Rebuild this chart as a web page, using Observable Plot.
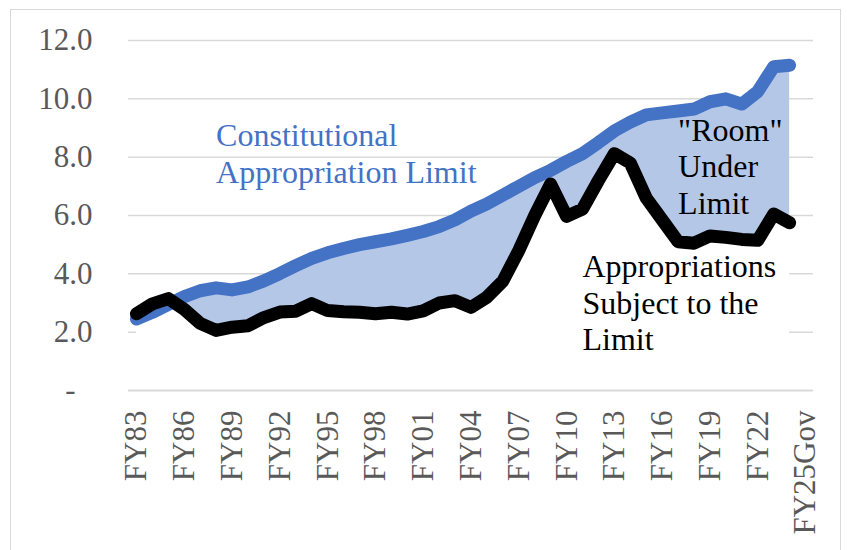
<!DOCTYPE html>
<html>
<head>
<meta charset="utf-8">
<script src="https://cdn.jsdelivr.net/npm/d3@7"></script>
<script src="https://cdn.jsdelivr.net/npm/@observablehq/plot@0.6"></script>
<style>
  html, body { margin: 0; padding: 0; background: #fff; }
  #wrap { position: relative; width: 847px; height: 550px; overflow: hidden; }
  #border { position: absolute; left: 10px; top: 9px; width: 829px; height: 600px; border: 1.5px solid #d9d9d9; pointer-events: none; }
</style>
</head>
<body>
<div id="wrap"><div id="chart"></div><div id="border"></div></div>
<script>
// Categories (x axis)
const categories = [
  "FY83","FY84","FY85","FY86","FY87","FY88","FY89","FY90","FY91","FY92",
  "FY93","FY94","FY95","FY96","FY97","FY98","FY99","FY00","FY01","FY02",
  "FY03","FY04","FY05","FY06","FY07","FY08","FY09","FY10","FY11","FY12",
  "FY13","FY14","FY15","FY16","FY17","FY18","FY19","FY20","FY21","FY22",
  "FY23","FY24","FY25Gov"
];
// Constitutional Appropriation Limit ($ billions), FY83–FY24
const limitValues = [
  2.45, 2.68, 2.95, 3.22, 3.42, 3.52, 3.45, 3.55, 3.76, 4.01,
  4.28, 4.53, 4.72, 4.87, 5.00, 5.10, 5.20, 5.32, 5.45, 5.62,
  5.85, 6.15, 6.40, 6.70, 7.00, 7.30, 7.55, 7.85, 8.12, 8.50,
  8.90, 9.20, 9.45, 9.52, 9.58, 9.65, 9.90, 10.00, 9.82, 10.25,
  11.10, 11.15
];
// Appropriations Subject to the Limit, FY83–FY24
const appropValues = [
  2.63, 2.97, 3.15, 2.78, 2.30, 2.06, 2.17, 2.22, 2.50, 2.69,
  2.72, 2.98, 2.74, 2.70, 2.68, 2.63, 2.68, 2.62, 2.73, 3.00,
  3.08, 2.85, 3.20, 3.75, 4.80, 6.00, 7.08, 5.97, 6.22, 7.20,
  8.12, 7.80, 6.60, 5.85, 5.10, 5.05, 5.30, 5.25, 5.18, 5.15,
  6.05, 5.75
];
const yTicks = [2, 4, 6, 8, 10, 12];
const xTicks = ["FY83","FY86","FY89","FY92","FY95","FY98","FY01","FY04","FY07","FY10","FY13","FY16","FY19","FY22","FY25Gov"];

// Annotations
const annoText = ["Constitutional\nAppropriation Limit", "\"Room\"\nUnder\nLimit", "Appropriations\nSubject to the\nLimit"];
const annoX = ["FY88", "FY17", "FY11"];
const annoY = [9.26, 9.46, 4.78];
const annoColor = ["#4472c4", "#000000", "#000000"];

const rows = limitValues.map((v, i) => ({ year: categories[i], limit: v, approp: appropValues[i] }));
const annos = annoText.map((t, i) => ({ t, x: annoX[i], y: annoY[i], c: annoColor[i] }));

const font = "'Liberation Serif', 'Times New Roman', serif";

const chart = Plot.plot({
  width: 847,
  height: 550,
  marginLeft: 128,
  marginRight: 34,
  marginTop: 40,
  marginBottom: 160,
  x: { type: "point", domain: categories, padding: 0.5 },
  y: { domain: [0, 12] },
  style: { fontFamily: font, fontSize: "31px", background: "white", overflow: "visible" },
  marks: [
    Plot.gridY(yTicks, { stroke: "#d9d9d9", strokeOpacity: 1, strokeWidth: 1.5 }),
    Plot.areaY(rows, { x: "year", y1: "approp", y2: "limit", fill: "#b4c7e7", curve: "linear" }),
    Plot.areaY(rows, { x: "year", y1: 0, y2: "approp", fill: "white", curve: "linear" }),
    Plot.ruleY([0], { stroke: "#d9d9d9", strokeWidth: 2 }),
    Plot.lineY(rows, { x: "year", y: "limit", stroke: "#4472c4", strokeWidth: 13, strokeLinecap: "round", strokeLinejoin: "round" }),
    Plot.lineY(rows, { x: "year", y: "approp", stroke: "#000000", strokeWidth: 13, strokeLinecap: "round", strokeLinejoin: "round" }),
    Plot.axisY(yTicks, { tickSize: 0, tickPadding: 36, tickFormat: d => d.toFixed(1), fill: "#595959", fontSize: 31, label: null }),
    Plot.axisY([0], { tickSize: 0, tickPadding: 53, tickFormat: () => "-", fill: "#595959", fontSize: 31, label: null }),
    Plot.axisX(xTicks, { tickSize: 0, tickPadding: 20, tickRotate: -90, fill: "#595959", fontSize: 31, label: null }),
    Plot.text(annos, { x: "x", y: "y", text: "t", fill: "c", textAnchor: "start", lineAnchor: "top", fontSize: 32, lineHeight: 1.145 })
  ]
});
document.getElementById("chart").appendChild(chart);
</script>
</body>
</html>
